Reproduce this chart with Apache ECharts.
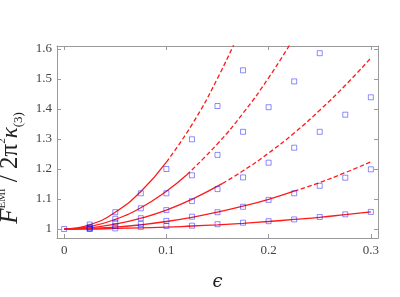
<!DOCTYPE html>
<html>
<head>
<meta charset="utf-8">
<script src="https://cdn.jsdelivr.net/npm/echarts@6/dist/echarts.min.js"></script>
<style>html,body{margin:0;padding:0;background:#fff}#c{width:400px;height:297px}</style>
</head>
<body>
<div id="c"></div>
<script>
// ---- data ----
var xTickValues = [0, 0.1, 0.2, 0.3];
var xTickLabels = ['0', '0.1', '0.2', '0.3'];
var yTickValues = [1, 1.1, 1.2, 1.3, 1.4, 1.5, 1.6];
var yTickLabels = ['1', '1.1', '1.2', '1.3', '1.4', '1.5', '1.6'];

// blue squares (numerical points)
var squareX = [0, 0.025, 0.05, 0.075, 0.1, 0.125, 0.15, 0.175, 0.2, 0.225, 0.25, 0.275, 0.3];
var squares1 = [1.000, 1.000, 1.002, 1.007, 1.010, 1.011, 1.016, 1.021, 1.026, 1.032, 1.040, 1.049, 1.057];
var squares2 = [null, 1.001, 1.010, 1.017, 1.027, 1.041, 1.056, 1.074, 1.097, 1.119, 1.144, 1.171, 1.199];
var squares3 = [null, 1.003, 1.021, 1.036, 1.063, 1.093, 1.133, 1.172, 1.221, 1.271, 1.324, 1.381, 1.439];
var squares4 = [null, 1.007, 1.034, 1.069, 1.119, 1.179, 1.247, 1.324, 1.406, 1.492, 1.586];
var squares5 = [null, 1.015, 1.056, 1.119, 1.200, 1.299, 1.410, 1.529];

// red curves (solid up to breakX, dashed afterwards)
var curve1X = [0, 0.025, 0.05, 0.075, 0.1, 0.125, 0.15, 0.175, 0.2, 0.225, 0.25, 0.275, 0.3];
var curve1Y = [1.000, 1.000, 1.002, 1.004, 1.006, 1.010, 1.014, 1.019, 1.025, 1.032, 1.039, 1.048, 1.057];
var curve1Break = 0.3;
var curve2X = [0, 0.025, 0.05, 0.075, 0.1, 0.125, 0.15, 0.175, 0.2, 0.225, 0.25, 0.275, 0.3];
var curve2Y = [1.000, 1.002, 1.006, 1.014, 1.025, 1.039, 1.056, 1.076, 1.099, 1.126, 1.155, 1.188, 1.224];
var curve2Break = 0.225;
var curve3X = [0, 0.025, 0.05, 0.075, 0.1, 0.125, 0.155, 0.175, 0.2, 0.225, 0.25, 0.275, 0.3];
var curve3Y = [1.000, 1.004, 1.016, 1.036, 1.063, 1.099, 1.152, 1.194, 1.253, 1.320, 1.396, 1.479, 1.570];
var curve3Break = 0.155;
var curve4X = [0, 0.025, 0.05, 0.075, 0.1, 0.12, 0.15, 0.175, 0.2, 0.225];
var curve4Y = [1.000, 1.008, 1.032, 1.071, 1.126, 1.181, 1.284, 1.386, 1.504, 1.638];
var curve4Break = 0.12;
var curve5X = [0, 0.025, 0.05, 0.075, 0.1, 0.125, 0.15, 0.175];
var curve5Y = [1.000, 1.014, 1.056, 1.125, 1.223, 1.348, 1.502, 1.683];
var curve5Break = 0.1;

// ---- build chart ----
var RED = '#ff1a1a';
var SQ = 'rgba(25,25,255,0.62)';
var FRAME = '#9a9a9a';
var SERIF = '"Liberation Serif", "DejaVu Serif", serif';

function pairs(xs, ys, lo, hi) {
  var out = [];
  for (var i = 0; i < xs.length && i < ys.length; i++) {
    if (ys[i] == null) continue;
    if (xs[i] >= lo - 1e-9 && xs[i] <= hi + 1e-9) out.push([xs[i], ys[i]]);
  }
  return out;
}
var series = [];
[[curve1X, curve1Y, curve1Break], [curve2X, curve2Y, curve2Break], [curve3X, curve3Y, curve3Break],
 [curve4X, curve4Y, curve4Break], [curve5X, curve5Y, curve5Break]].forEach(function (c) {
  series.push({type: 'line', data: pairs(c[0], c[1], -1, c[2]), smooth: true, symbol: 'none',
    clip: true, lineStyle: {color: RED, width: 1.3}, z: 2, silent: true});
  var d = pairs(c[0], c[1], c[2], 9);
  if (d.length > 1) series.push({type: 'line', data: d, smooth: true, symbol: 'none',
    clip: true, lineStyle: {color: RED, width: 1.3, type: [4.5, 2.5]}, z: 2, silent: true});
});
[squares1, squares2, squares3, squares4, squares5].forEach(function (s) {
  series.push({type: 'scatter', data: pairs(squareX, s, -1, 9), symbol: 'rect', symbolSize: 5,
    clip: true, itemStyle: {color: 'rgba(0,0,0,0)', borderColor: SQ, borderWidth: 1}, z: 3, silent: true});
});

function axisCommon(pos, vals, labels, showLabel) {
  return {
    type: 'value', position: pos,
    axisLine: {show: true, onZero: false, lineStyle: {color: FRAME, width: 1}},
    axisTick: {show: true, inside: true, length: 4, customValues: vals, lineStyle: {color: FRAME}},
    axisLabel: {show: showLabel, customValues: vals, color: '#444', fontFamily: SERIF, fontSize: 13,
      formatter: function (v) {
        for (var i = 0; i < vals.length; i++) if (Math.abs(vals[i] - v) < 1e-6) return labels[i];
        return '';
      }},
    splitLine: {show: false}
  };
}
var xMain = axisCommon('bottom', xTickValues, xTickLabels, true);
xMain.min = -0.007; xMain.max = 0.307;
xMain.axisLabel.margin = 6;
xMain.name = 'ϵ';
xMain.nameLocation = 'middle';
xMain.nameGap = 35;
xMain.nameTextStyle = {fontFamily: '"DejaVu Serif", serif', fontStyle: 'italic', fontSize: 18, color: '#222'};
var xTop = axisCommon('top', xTickValues, xTickLabels, false);
xTop.min = -0.007; xTop.max = 0.307;

var yMain = axisCommon('left', yTickValues, yTickLabels, true);
yMain.min = 0.97; yMain.max = 1.61;
yMain.axisLabel.margin = 5;
yMain.name = '{F|F}{sup|EMI}{n| / 2π}{sup|2}{k|κ}{sub|(3)}';
yMain.nameLocation = 'middle';
yMain.nameRotate = 90;
yMain.nameGap = 29;
yMain.nameTextStyle = {
  color: '#222', padding: [0, 52, 0, 0],
  rich: {
    F: {fontFamily: SERIF, fontStyle: 'italic', fontSize: 25, lineHeight: 28, color: '#222'},
    n: {fontFamily: SERIF, fontSize: 25, lineHeight: 28, color: '#222'},
    k: {fontFamily: SERIF, fontStyle: 'italic', fontSize: 23, lineHeight: 28, color: '#222'},
    sup: {fontFamily: SERIF, fontSize: 11, lineHeight: 12, verticalAlign: 'top', color: '#222'},
    sub: {fontFamily: SERIF, fontSize: 13, lineHeight: 18, verticalAlign: 'bottom', color: '#222'}
  }
};
var yRight = axisCommon('right', yTickValues, yTickLabels, false);
yRight.min = 0.97; yRight.max = 1.61;

var chart = echarts.init(document.getElementById('c'), null, {renderer: 'canvas'});
chart.setOption({
  animation: false,
  backgroundColor: '#fff',
  grid: {left: 57, right: 22, top: 46, bottom: 59, containLabel: false, outerBoundsMode: 'none'},
  xAxis: [xMain, xTop],
  yAxis: [yMain, yRight],
  series: series
});
</script>
</body>
</html>
